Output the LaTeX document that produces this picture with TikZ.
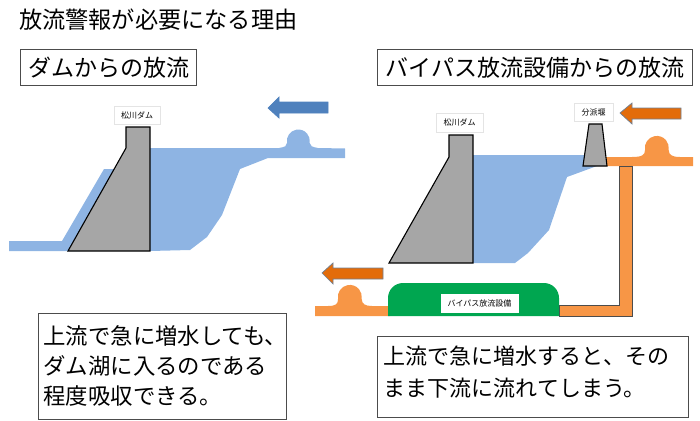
\documentclass[tikz,border=0pt]{standalone}
\usepackage{fontspec}
\setmainfont{Noto Sans CJK JP}
\newcommand{\jpsize}[2]{\fontsize{#1}{#2}\selectfont}
\tikzset{dam/.style={draw=black,line width=1.1pt,fill=damgray,line join=miter},
	water/.style={fill=waterblue},
	bypass/.style={fill=bypassorange},
	flow node/.style={draw=flowedge,line width=0.7pt},
	tag node/.style={draw=tagedge,fill=white,line width=0.6pt,inner sep=0pt,font=\jpsize{8}{10}},
	head node/.style={draw=black!70,fill=white,line width=0.8pt,inner sep=0pt,font=\jpsize{23}{26}},
	note node/.style={draw=black!70,fill=white,line width=0.8pt,inner sep=0pt,align=left},
}
\definecolor{damgray}{HTML}{A6A6A6}
\definecolor{waterblue}{HTML}{8EB4E3}
\definecolor{bypassorange}{HTML}{F79646}
\definecolor{flowblue}{HTML}{4F81BD}
\definecolor{floworange}{HTML}{E36C0A}
\definecolor{flowedge}{HTML}{6F7F93}
\definecolor{tagedge}{HTML}{E4E4E4}
\definecolor{weirgreen}{HTML}{00A650}
\begin{document}
\begin{tikzpicture}[x=1pt,y=-1pt]
	\useasboundingbox (0,0) rectangle (700,420);
	\node[anchor=west,font=\jpsize{23.2}{26}] (title) at (15.5,20) {放流警報が必要になる理由};
	\node[head node,minimum width=176pt,minimum height=36pt] (leftHead) at (108.5,67.5) {ダムからの放流};
	\node[head node,minimum width=315pt,minimum height=36pt] (rightHead) at (535,67.5) {バイパス放流設備からの放流};

	% left side
	\fill[water] (150,148) -- (279,148) .. controls (285,147) and (287,146) .. (287,143) arc[start angle=170,end angle=370,radius=11.5] .. controls (310,146) and (312,147) .. (318,148) -- (345,148.5) -- (345,158) -- (268,158) -- (240,169) -- (222,215) -- (207,237) -- (190,250) -- (150,251) -- cycle;
	\fill[water] (9,241) -- (62,241) -- (104,169) -- (115,169) -- (80,251) -- (9,251) -- cycle;
	\draw[dam] (126,127) -- (150,127) -- (150,251) -- (68,251) -- (126,148) -- cycle;
	\node[tag node,minimum width=46pt,minimum height=18pt] (leftDam) at (137,115) {松川ダム};
	\draw[flow node,fill=flowblue,draw=flowblue] (268,108) -- (279,97) -- (279,102) -- (328,102) -- (328,113) -- (279,113) -- (279,118) -- cycle;

	% right side
	\fill[water] (473,155) -- (590,155) -- (590,166) -- (597,166) -- (567,177) -- (549,230) -- (528,253) -- (515,263) -- (473,263) -- cycle;
	\fill[bypass] (600,157) -- (632,157) .. controls (642,157) and (645,155) .. (645,150) arc[start angle=170,end angle=370,radius=12] .. controls (669,155) and (672,157) .. (680,157) -- (693,157) -- (693,166) -- (600,166) -- cycle;
	\draw[draw=black!70,line width=0.8pt,fill=bypassorange] (619,166) -- (632,166) -- (632,316) -- (559,316) -- (559,305) -- (619,305) -- cycle;
	\fill[bypass] (315,306) -- (328,306) .. controls (336,306) and (338,304) .. (338,299) arc[start angle=170,end angle=370,radius=12] .. controls (362,304) and (365,306) .. (372,306) -- (390,306) -- (390,316) -- (315,316) -- cycle;
	\draw[dam] (449,135) -- (473,135) -- (473,263) -- (389,263) -- (449,157) -- cycle;
	\draw[dam] (589,124) -- (602,124) -- (607,166) -- (583,166) -- cycle;
	\fill[weirgreen] (388,316) -- (388,298) arc[start angle=180,end angle=270,radius=15] -- (544,283) arc[start angle=270,end angle=360,radius=15] -- (559,316) -- cycle;
	\node[tag node,draw=white,minimum width=77pt,minimum height=18pt] (bypassTag) at (479.5,303) {バイパス放流設備};
	\node[tag node,minimum width=47pt,minimum height=19pt] (rightDam) at (459.5,122.5) {松川ダム};
	\node[tag node,minimum width=39pt,minimum height=18pt] (weirTag) at (593.5,112) {分派堰};
	\draw[flow node,fill=floworange] (620,113) -- (632,103) -- (632,108) -- (681,108) -- (681,119) -- (632,119) -- (632,124) -- cycle;
	\draw[flow node,fill=floworange] (322,273) -- (333,263) -- (333,268) -- (383,268) -- (383,279) -- (333,279) -- (333,284) -- cycle;

	% notes
	\node[note node,anchor=north west,font=\jpsize{22.4}{30},minimum width=248pt,minimum height=106pt,text width=238pt] (leftNote) at (38,313) {上流で急に増水しても、\\ダム湖に入るのである\\程度吸収できる。};
	\node[note node,anchor=north west,font=\jpsize{22}{32},minimum width=311pt,minimum height=81pt,text width=298pt] (rightNote) at (377,336) {上流で急に増水すると、その\\まま下流に流れてしまう。\\[-21pt]\mbox{}};
\end{tikzpicture}
\end{document}
